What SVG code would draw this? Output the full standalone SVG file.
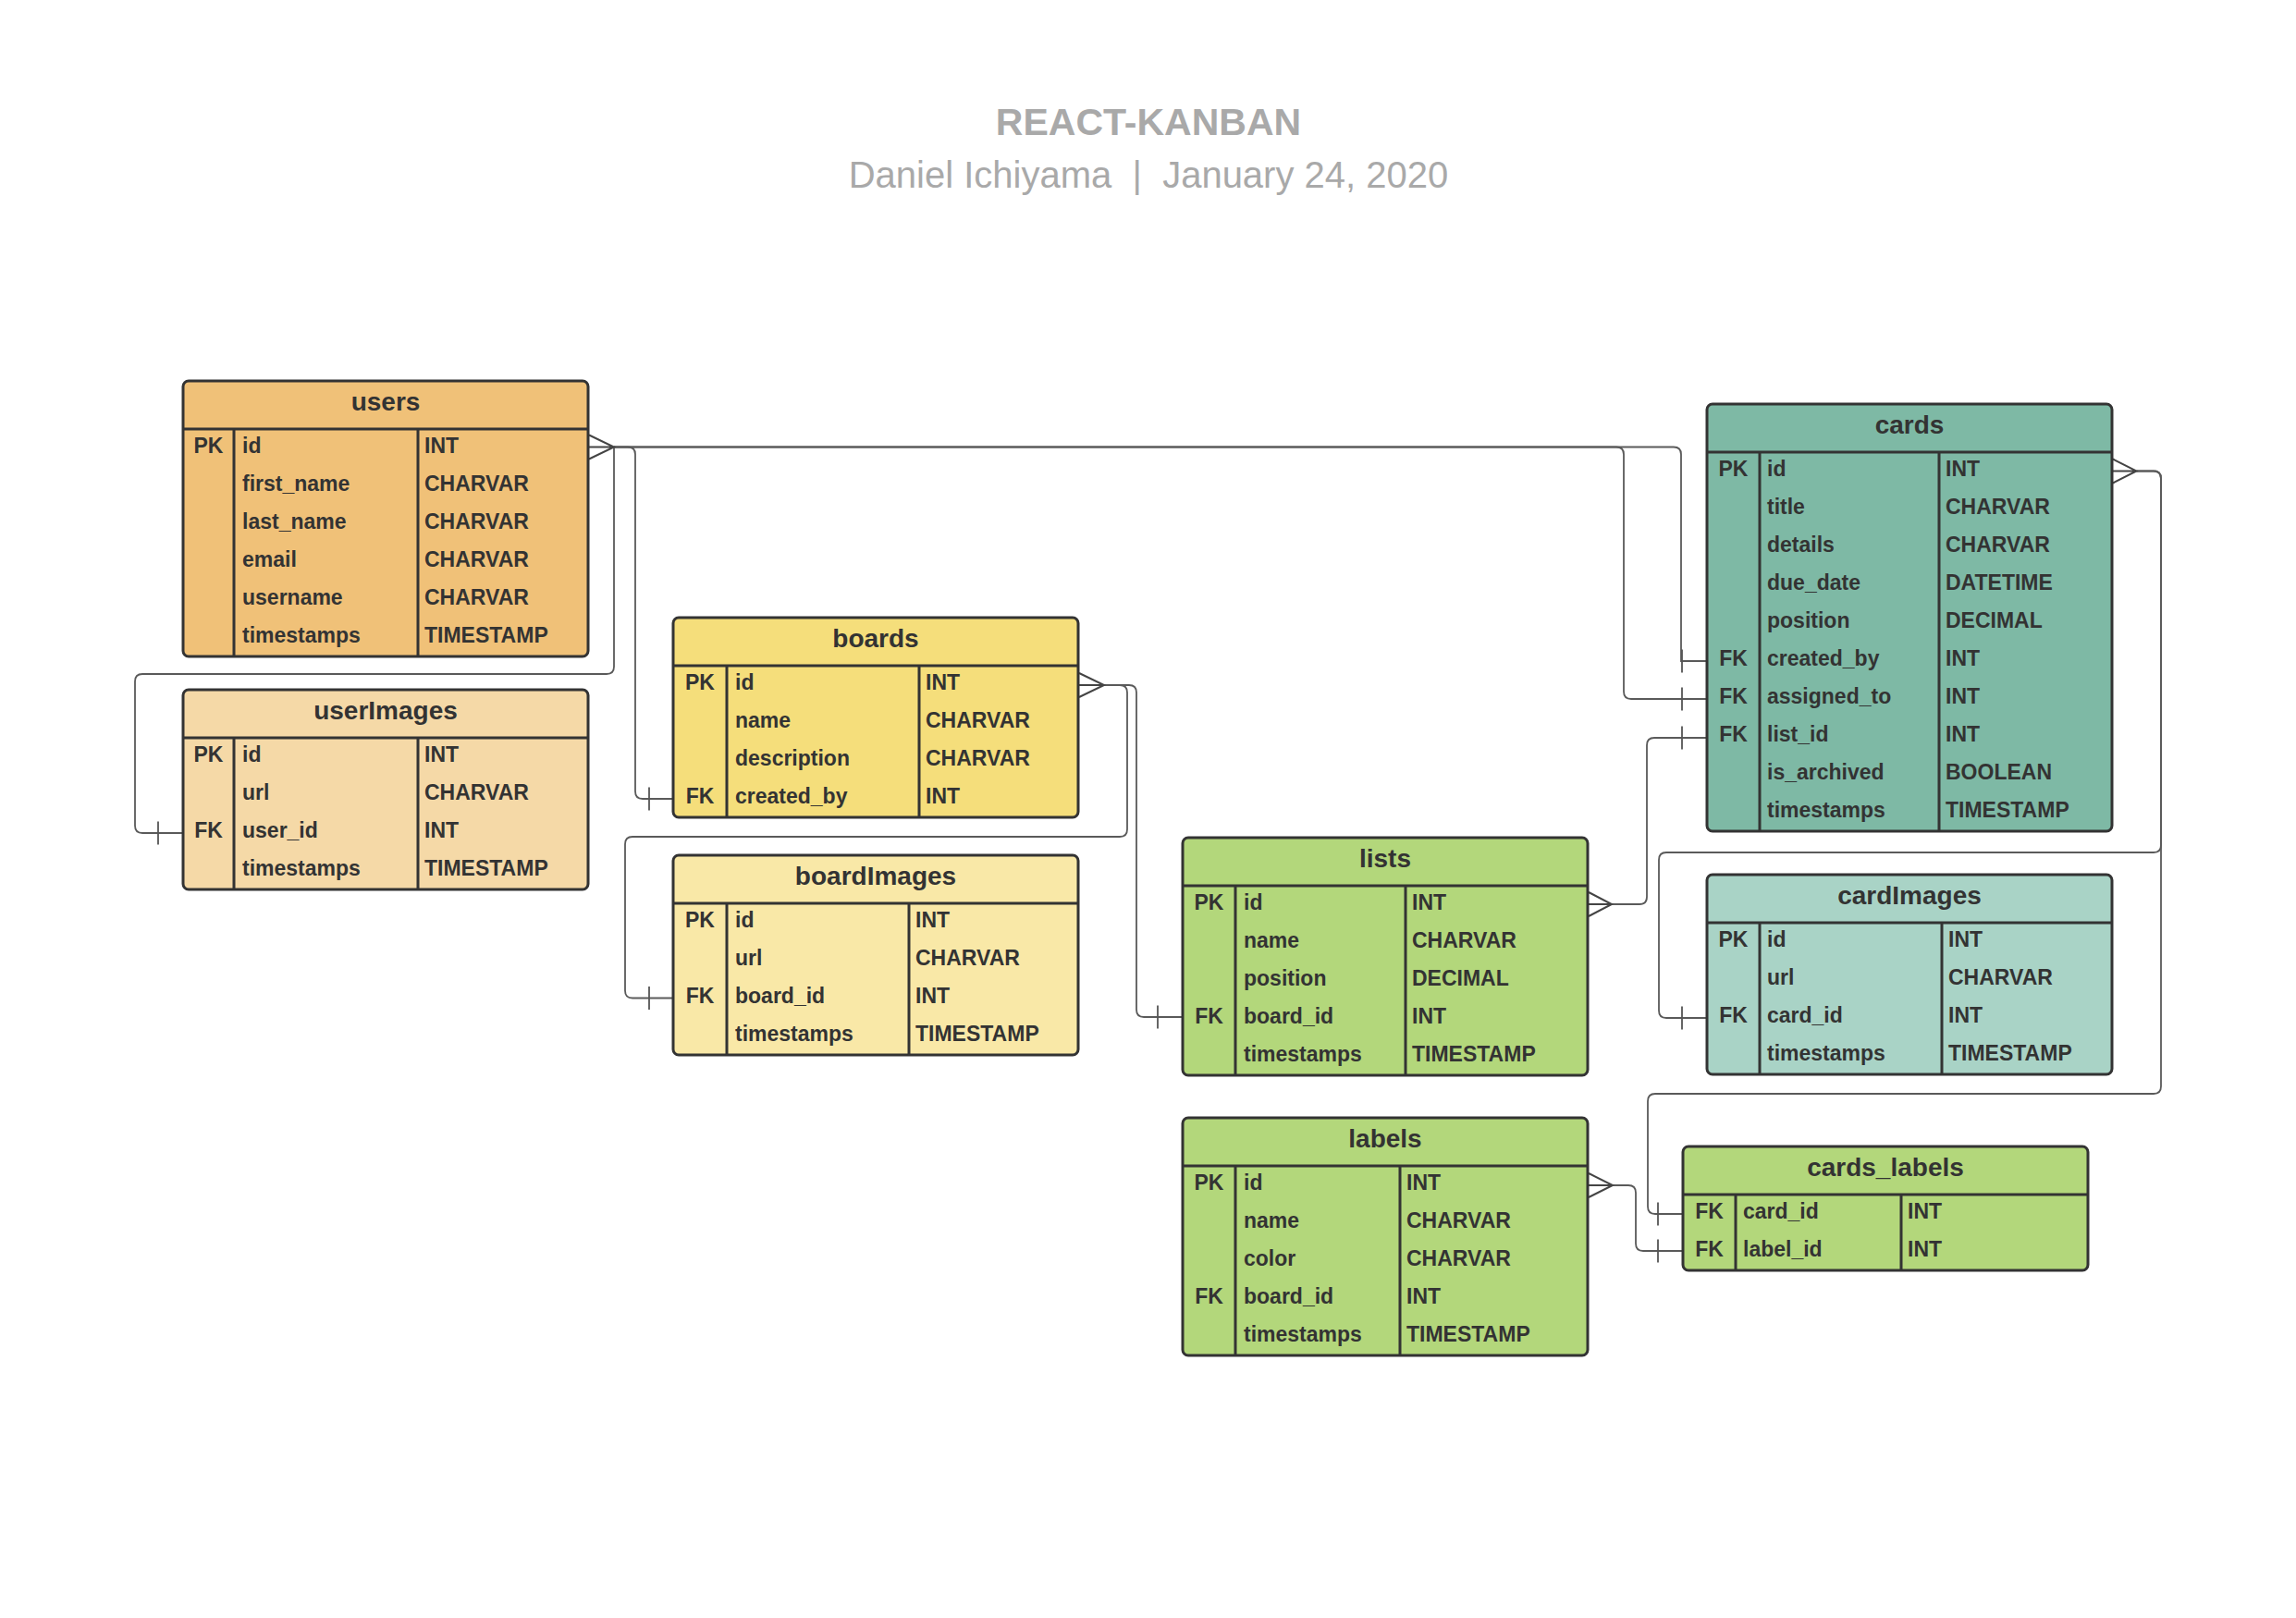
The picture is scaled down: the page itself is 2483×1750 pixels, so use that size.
<svg xmlns="http://www.w3.org/2000/svg" width="2483" height="1750" viewBox="0 0 2483 1750">
<style>
.bg{fill:#ffffff}
.title{font-family:"Liberation Sans",Arial,sans-serif;font-weight:bold;font-size:41px;fill:#a9a9a9}
.sub{font-family:"Liberation Sans",Arial,sans-serif;font-size:40px;fill:#a9a9a9;white-space:pre}
.box{stroke:#333333;stroke-width:3}
.div{stroke:#333333;stroke-width:3;fill:none}
.hdr{font-family:"Liberation Sans",Arial,sans-serif;font-weight:bold;font-size:28px;fill:#333333;text-anchor:middle}
.f{font-family:"Liberation Sans",Arial,sans-serif;font-weight:bold;font-size:23px;fill:#333333}
.k{text-anchor:middle}
.c-users{fill:#f0c178}
.c-uimg{fill:#f5d9a7}
.c-boards{fill:#f5de7b}
.c-bimg{fill:#f9e8a7}
.c-green{fill:#b3d77b}
.c-cards{fill:#7eb9a5}
.c-cimg{fill:#a9d3c6}
.conn{fill:none;stroke:#5a5a5a;stroke-width:1.8}
.crow{fill:none;stroke:#444444;stroke-width:2}
.bar{fill:none;stroke:#555555;stroke-width:1.8}
</style>
<rect class="bg" x="0" y="0" width="2483" height="1750"/>

<g id="title">
<text class="title" x="1242" y="146" text-anchor="middle">REACT-KANBAN</text>
<text class="sub" x="1242" y="203" text-anchor="middle" xml:space="preserve">Daniel Ichiyama  |  January 24, 2020</text>
</g>

<g id="connectors">
<path class="conn" d="M664,483.5 V721 Q664,729 656,729 H154 Q146,729 146,737 V893 Q146,901 154,901 H198"/>
<path class="conn" d="M664,483.5 H679 Q687,483.5 687,491.5 V856 Q687,864 695,864 H728"/>
<path class="conn" d="M664,483.5 H1810 Q1818,483.5 1818,491.5 V715 H1846"/>
<path class="conn" d="M664,483.5 H1748 Q1756,483.5 1756,491.5 V748 Q1756,756 1764,756 H1846"/>
<path class="conn" d="M1194,741 H1211 Q1219,741 1219,749 V897 Q1219,905 1211,905 H684 Q676,905 676,913 V1071.5 Q676,1079.5 684,1079.5 H728"/>
<path class="conn" d="M1194,741 H1221 Q1229,741 1229,749 V1092 Q1229,1100 1237,1100 H1279"/>
<path class="conn" d="M1743,978 H1773 Q1781,978 1781,970 V806 Q1781,798 1789,798 H1846"/>
<path class="conn" d="M1744,1282 H1761 Q1769,1282 1769,1290 V1345 Q1769,1353 1777,1353 H1820"/>
<path class="conn" d="M2310.5,509.5 H2329 Q2337,509.5 2337,517.5 V914 Q2337,922 2329,922 H1802 Q1794,922 1794,930 V1093 Q1794,1101 1802,1101 H1846"/>
<path class="conn" d="M2310.5,509.5 H2329 Q2337,509.5 2337,517.5 V1175 Q2337,1183 2329,1183 H1790 Q1782,1183 1782,1191 V1305 Q1782,1313 1790,1313 H1820"/>
<path class="crow" d="M637,470.5 L664,483.5 L637,496.5 M637,483.5 H664"/>
<path class="crow" d="M1167,728 L1194,741 L1167,754 M1167,741 H1194"/>
<path class="crow" d="M1718,965 L1743,978 L1718,991 M1718,978 H1743"/>
<path class="crow" d="M1718,1269 L1744,1282 L1718,1295 M1718,1282 H1744"/>
<path class="crow" d="M2285,496.5 L2310.5,509.5 L2285,522.5 M2285,509.5 H2310.5"/>
<path class="bar" d="M171,888.5 V913.5"/>
<path class="bar" d="M702,851.5 V876.5"/>
<path class="bar" d="M702,1067 V1092"/>
<path class="bar" d="M1252,1087.5 V1112.5"/>
<path class="bar" d="M1819,702.5 V727.5"/>
<path class="bar" d="M1819,743.5 V768.5"/>
<path class="bar" d="M1819,785.5 V810.5"/>
<path class="bar" d="M1819,1088.5 V1113.5"/>
<path class="bar" d="M1793,1300.5 V1325.5"/>
<path class="bar" d="M1793,1340.5 V1365.5"/>
</g>

<g id="users">
<rect class="box c-users" x="198" y="412" width="438" height="298" rx="6"/>
<path class="div" d="M198,464 H636 M253,464 V710 M452,464 V710"/>
<text class="hdr" x="417" y="444">users</text>
<text class="f k" x="225.5" y="490">PK</text><text class="f" x="262" y="490">id</text><text class="f" x="459" y="490">INT</text>
<text class="f" x="262" y="531">first_name</text><text class="f" x="459" y="531">CHARVAR</text>
<text class="f" x="262" y="572">last_name</text><text class="f" x="459" y="572">CHARVAR</text>
<text class="f" x="262" y="613">email</text><text class="f" x="459" y="613">CHARVAR</text>
<text class="f" x="262" y="654">username</text><text class="f" x="459" y="654">CHARVAR</text>
<text class="f" x="262" y="695">timestamps</text><text class="f" x="459" y="695">TIMESTAMP</text>
</g>

<g id="userImages">
<rect class="box c-uimg" x="198" y="746" width="438" height="216" rx="6"/>
<path class="div" d="M198,798 H636 M253,798 V962 M452,798 V962"/>
<text class="hdr" x="417" y="778">userImages</text>
<text class="f k" x="225.5" y="824">PK</text><text class="f" x="262" y="824">id</text><text class="f" x="459" y="824">INT</text>
<text class="f" x="262" y="865">url</text><text class="f" x="459" y="865">CHARVAR</text>
<text class="f k" x="225.5" y="906">FK</text><text class="f" x="262" y="906">user_id</text><text class="f" x="459" y="906">INT</text>
<text class="f" x="262" y="947">timestamps</text><text class="f" x="459" y="947">TIMESTAMP</text>
</g>

<g id="boards">
<rect class="box c-boards" x="728" y="668" width="438" height="216" rx="6"/>
<path class="div" d="M728,720 H1166 M786,720 V884 M994,720 V884"/>
<text class="hdr" x="947" y="700">boards</text>
<text class="f k" x="757" y="746">PK</text><text class="f" x="795" y="746">id</text><text class="f" x="1001" y="746">INT</text>
<text class="f" x="795" y="787">name</text><text class="f" x="1001" y="787">CHARVAR</text>
<text class="f" x="795" y="828">description</text><text class="f" x="1001" y="828">CHARVAR</text>
<text class="f k" x="757" y="869">FK</text><text class="f" x="795" y="869">created_by</text><text class="f" x="1001" y="869">INT</text>
</g>

<g id="boardImages">
<rect class="box c-bimg" x="728" y="925" width="438" height="216" rx="6"/>
<path class="div" d="M728,977 H1166 M786,977 V1141 M983,977 V1141"/>
<text class="hdr" x="947" y="957">boardImages</text>
<text class="f k" x="757" y="1003">PK</text><text class="f" x="795" y="1003">id</text><text class="f" x="990" y="1003">INT</text>
<text class="f" x="795" y="1044">url</text><text class="f" x="990" y="1044">CHARVAR</text>
<text class="f k" x="757" y="1085">FK</text><text class="f" x="795" y="1085">board_id</text><text class="f" x="990" y="1085">INT</text>
<text class="f" x="795" y="1126">timestamps</text><text class="f" x="990" y="1126">TIMESTAMP</text>
</g>

<g id="lists">
<rect class="box c-green" x="1279" y="906" width="438" height="257" rx="6"/>
<path class="div" d="M1279,958 H1717 M1336,958 V1163 M1520,958 V1163"/>
<text class="hdr" x="1498" y="938">lists</text>
<text class="f k" x="1307.5" y="984">PK</text><text class="f" x="1345" y="984">id</text><text class="f" x="1527" y="984">INT</text>
<text class="f" x="1345" y="1025">name</text><text class="f" x="1527" y="1025">CHARVAR</text>
<text class="f" x="1345" y="1066">position</text><text class="f" x="1527" y="1066">DECIMAL</text>
<text class="f k" x="1307.5" y="1107">FK</text><text class="f" x="1345" y="1107">board_id</text><text class="f" x="1527" y="1107">INT</text>
<text class="f" x="1345" y="1148">timestamps</text><text class="f" x="1527" y="1148">TIMESTAMP</text>
</g>

<g id="labels">
<rect class="box c-green" x="1279" y="1209" width="438" height="257" rx="6"/>
<path class="div" d="M1279,1261 H1717 M1336,1261 V1466 M1514,1261 V1466"/>
<text class="hdr" x="1498" y="1241">labels</text>
<text class="f k" x="1307.5" y="1287">PK</text><text class="f" x="1345" y="1287">id</text><text class="f" x="1521" y="1287">INT</text>
<text class="f" x="1345" y="1328">name</text><text class="f" x="1521" y="1328">CHARVAR</text>
<text class="f" x="1345" y="1369">color</text><text class="f" x="1521" y="1369">CHARVAR</text>
<text class="f k" x="1307.5" y="1410">FK</text><text class="f" x="1345" y="1410">board_id</text><text class="f" x="1521" y="1410">INT</text>
<text class="f" x="1345" y="1451">timestamps</text><text class="f" x="1521" y="1451">TIMESTAMP</text>
</g>

<g id="cards">
<rect class="box c-cards" x="1846" y="437" width="438" height="462" rx="6"/>
<path class="div" d="M1846,489 H2284 M1903,489 V899 M2097,489 V899"/>
<text class="hdr" x="2065" y="469">cards</text>
<text class="f k" x="1874.5" y="515">PK</text><text class="f" x="1911" y="515">id</text><text class="f" x="2104" y="515">INT</text>
<text class="f" x="1911" y="556">title</text><text class="f" x="2104" y="556">CHARVAR</text>
<text class="f" x="1911" y="597">details</text><text class="f" x="2104" y="597">CHARVAR</text>
<text class="f" x="1911" y="638">due_date</text><text class="f" x="2104" y="638">DATETIME</text>
<text class="f" x="1911" y="679">position</text><text class="f" x="2104" y="679">DECIMAL</text>
<text class="f k" x="1874.5" y="720">FK</text><text class="f" x="1911" y="720">created_by</text><text class="f" x="2104" y="720">INT</text>
<text class="f k" x="1874.5" y="761">FK</text><text class="f" x="1911" y="761">assigned_to</text><text class="f" x="2104" y="761">INT</text>
<text class="f k" x="1874.5" y="802">FK</text><text class="f" x="1911" y="802">list_id</text><text class="f" x="2104" y="802">INT</text>
<text class="f" x="1911" y="843">is_archived</text><text class="f" x="2104" y="843">BOOLEAN</text>
<text class="f" x="1911" y="884">timestamps</text><text class="f" x="2104" y="884">TIMESTAMP</text>
</g>

<g id="cardImages">
<rect class="box c-cimg" x="1846" y="946" width="438" height="216" rx="6"/>
<path class="div" d="M1846,998 H2284 M1903,998 V1162 M2100,998 V1162"/>
<text class="hdr" x="2065" y="978">cardImages</text>
<text class="f k" x="1874.5" y="1024">PK</text><text class="f" x="1911" y="1024">id</text><text class="f" x="2107" y="1024">INT</text>
<text class="f" x="1911" y="1065">url</text><text class="f" x="2107" y="1065">CHARVAR</text>
<text class="f k" x="1874.5" y="1106">FK</text><text class="f" x="1911" y="1106">card_id</text><text class="f" x="2107" y="1106">INT</text>
<text class="f" x="1911" y="1147">timestamps</text><text class="f" x="2107" y="1147">TIMESTAMP</text>
</g>

<g id="cards_labels">
<rect class="box c-green" x="1820" y="1240" width="438" height="134" rx="6"/>
<path class="div" d="M1820,1292 H2258 M1877,1292 V1374 M2056,1292 V1374"/>
<text class="hdr" x="2039" y="1272">cards_labels</text>
<text class="f k" x="1848.5" y="1318">FK</text><text class="f" x="1885" y="1318">card_id</text><text class="f" x="2063" y="1318">INT</text>
<text class="f k" x="1848.5" y="1359">FK</text><text class="f" x="1885" y="1359">label_id</text><text class="f" x="2063" y="1359">INT</text>
</g>
</svg>
